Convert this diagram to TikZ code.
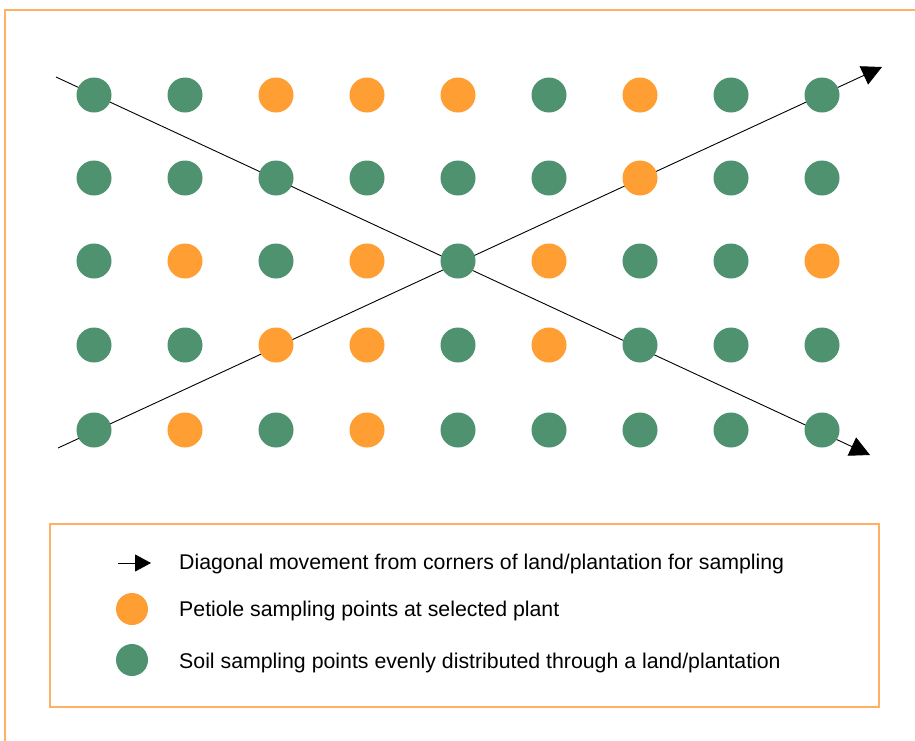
\documentclass[tikz,border=0pt]{standalone}
\usepackage{fontspec}
\setmainfont{Liberation Sans}
\usetikzlibrary{arrows.meta}
\definecolor{soilgreen}{HTML}{4F9270}
\definecolor{petorange}{HTML}{FF9E33}
\definecolor{frameorange}{HTML}{FFB062}
\begin{document}
\begin{tikzpicture}[x=1pt,y=-1pt,
  soil/.style={circle,fill=soilgreen,minimum size=35pt,inner sep=0pt},
  petiole/.style={circle,fill=petorange,minimum size=35pt,inner sep=0pt},
  lsoil/.style={circle,fill=soilgreen,minimum size=32pt,inner sep=0pt},
  lpetiole/.style={circle,fill=petorange,minimum size=32pt,inner sep=0pt},
  frame/.style={draw=frameorange,line width=1.2pt},
  diag/.style={draw=black,line width=0.9pt,-{Triangle[length=20pt,width=20pt]}},
  legtext/.style={anchor=west,font=\fontsize{21.3pt}{25pt}\selectfont,inner sep=0pt}]
\useasboundingbox (0,0) rectangle (915,740);
\fill[white] (0,0) rectangle (915,740);
\draw[frame] (5,750) -- (5,10) -- (925,10);
% diagonal movement
\coordinate (s1) at (56,77);
\coordinate (e1) at (870,455);
\coordinate (s2) at (58,448);
\coordinate (e2) at (882,67);
\draw[diag] (s1) -- (e1);
\draw[diag] (s2) -- (e2);
% grid of sampling points
\def\pp{p}
\def\colx{{94,185,276,367,458,549,640,731,822}}
\def\rowy{{95,178,261,345,430}}
\foreach \r/\pattern in {1/{s,s,p,p,p,s,p,s,s},2/{s,s,s,s,s,s,p,s,s},3/{s,p,s,p,s,p,s,s,p},4/{s,s,p,p,s,p,s,s,s},5/{s,p,s,p,s,s,s,s,s}}{
  \foreach \t [count=\c] in \pattern {
    \pgfmathsetmacro{\xx}{\colx[\c-1]}
    \pgfmathsetmacro{\yy}{\rowy[\r-1]}
    \ifx\t\pp
      \node[petiole] (d-\r-\c) at (\xx,\yy) {};
    \else
      \node[soil] (d-\r-\c) at (\xx,\yy) {};
    \fi
  }
}
% legend
\draw[frame] (50,524) rectangle (879,707);
\coordinate (la) at (118,563);
\coordinate (lb) at (151,563);
\draw[draw=black,line width=0.9pt,-{Triangle[length=16pt,width=17pt]}] (la) -- (lb);
\node[lpetiole] (lp) at (132,609) {};
\node[lsoil] (ls) at (132,660) {};
\node[legtext] (t1) at (179,564) {Diagonal movement from corners of land/plantation for sampling};
\node[legtext] (t2) at (179,611) {Petiole sampling points at selected plant};
\node[legtext] (t3) at (179,663) {Soil sampling points evenly distributed through a land/plantation};
\end{tikzpicture}
\end{document}
